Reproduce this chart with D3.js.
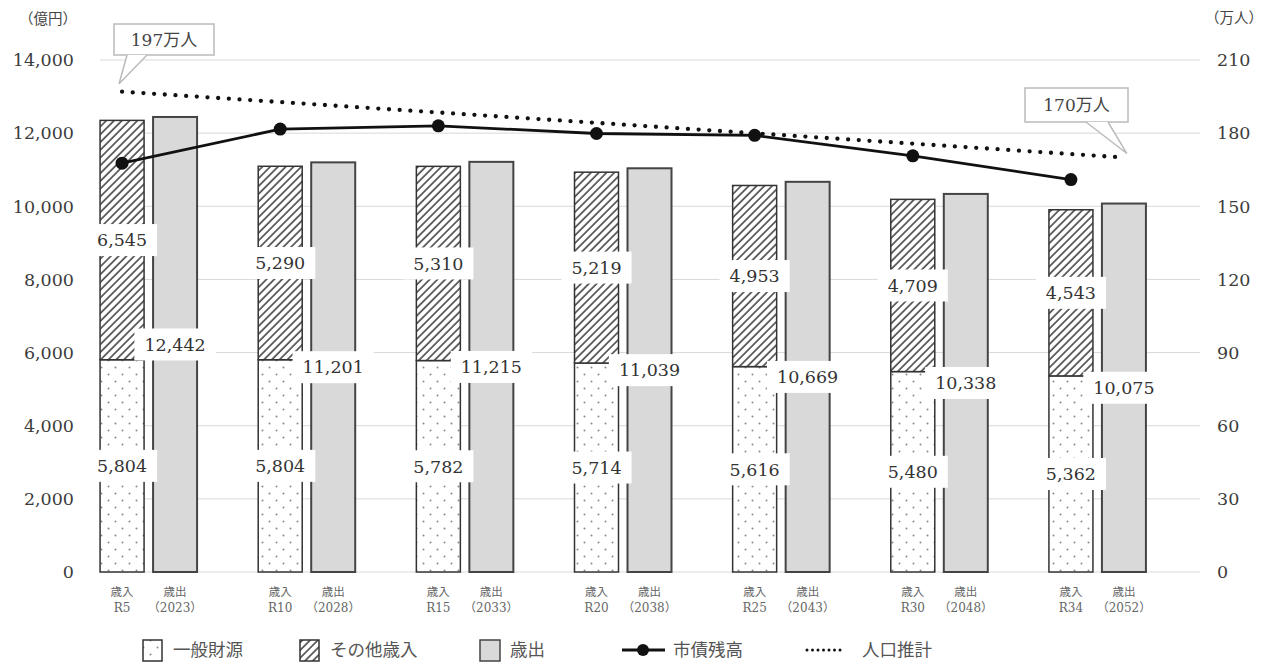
<!DOCTYPE html>
<html><head><meta charset="utf-8">
<script src="https://cdn.jsdelivr.net/npm/d3@7"></script>
<style>body{margin:0;background:#fff}</style></head>
<body><svg id="c" width="1273" height="664"></svg>
<script>
// ---- data ----
const categories = ["R5","R10","R15","R20","R25","R30","R34"];
const years = ["2023","2028","2033","2038","2043","2048","2052"];
const generalRevenue = [5804,5804,5782,5714,5616,5480,5362];
const otherRevenue = [6545,5290,5310,5219,4953,4709,4543];
const expenditure = [12442,11201,11215,11039,10669,10338,10075];
const debtBalance = [11180,12110,12200,11990,11940,11380,10730];
const populationCats = ["R5","R34"];
const populationVals = [197,170];
const populationLabels = ["197万人","170万人"];
const leftTicks = [0,2000,4000,6000,8000,10000,12000,14000];
const rightTicks = [0,30,60,90,120,150,180,210];
const legendLabels = ["一般財源","その他歳入","歳出","市債残高","人口推計"];

// ---- layout ----
const svg = d3.select("#c");
const y = d3.scaleLinear().domain([0,14000]).range([572,60]);
const yR = d3.scaleLinear().domain([0,210]).range([572,60]);
const x = d3.scalePoint().domain(categories).range([69.5,1176.5]).padding(0.5);
const off = 26.5, bw = 44;
const revX = c => x(c) - off, expX = c => x(c) + off;
const fmt = d3.format(",");
const numFont = "'DejaVu Serif','Noto Sans CJK JP',serif";
const jpFont = "'Noto Sans CJK JP',sans-serif";

// patterns
const defs = svg.append("defs");
const pd = defs.append("pattern").attr("id","dots").attr("patternUnits","userSpaceOnUse")
  .attr("width",14).attr("height",14);
pd.append("rect").attr("width",14).attr("height",14).attr("fill","#fff");
pd.append("circle").attr("cx",3.5).attr("cy",3.5).attr("r",1).attr("fill","#8a8a8a");
pd.append("circle").attr("cx",10.5).attr("cy",10.5).attr("r",1).attr("fill","#8a8a8a");
const ph = defs.append("pattern").attr("id","hatch").attr("patternUnits","userSpaceOnUse")
  .attr("width",5.5).attr("height",5.5).attr("patternTransform","rotate(45)");
ph.append("rect").attr("width",5.5).attr("height",5.5).attr("fill","#fff");
ph.append("line").attr("x1",1).attr("y1",0).attr("x2",1).attr("y2",5.5)
  .attr("stroke","#3a3a3a").attr("stroke-width",1.5);

// gridlines
svg.append("g").selectAll("line").data(leftTicks).join("line")
  .attr("x1",100).attr("x2",1200).attr("y1",d=>y(d)).attr("y2",d=>y(d))
  .attr("stroke","#d9d9d9").attr("stroke-width",1);

// axis labels
svg.append("g").selectAll("text").data(leftTicks).join("text")
  .attr("x",74).attr("y",d=>y(d)).attr("dy","0.36em").attr("text-anchor","end")
  .attr("font-family",numFont).attr("font-size",17.5).attr("fill","#3c3c3c")
  .text(d=>fmt(d));
svg.append("g").selectAll("text").data(rightTicks).join("text")
  .attr("x",1217).attr("y",d=>yR(d)).attr("dy","0.36em").attr("text-anchor","start")
  .attr("font-family",numFont).attr("font-size",17.5).attr("fill","#3c3c3c")
  .text(d=>d);
svg.append("text").attr("x",19).attr("y",24).attr("font-family",jpFont).attr("font-size",14.5)
  .attr("fill","#444").text("（億円）");
svg.append("text").attr("x",1205).attr("y",23).attr("font-family",jpFont).attr("font-size",14.5)
  .attr("fill","#444").text("（万人）");

// bars
const bars = svg.append("g");
categories.forEach((c,i)=>{
  bars.append("rect").attr("x",revX(c)-bw/2).attr("width",bw)
    .attr("y",y(generalRevenue[i])).attr("height",y(0)-y(generalRevenue[i]))
    .attr("fill","url(#dots)").attr("stroke","#333").attr("stroke-width",1.5);
  const top = generalRevenue[i]+otherRevenue[i];
  bars.append("rect").attr("x",revX(c)-bw/2).attr("width",bw)
    .attr("y",y(top)).attr("height",y(generalRevenue[i])-y(top))
    .attr("fill","url(#hatch)").attr("stroke","#333").attr("stroke-width",1.5);
  bars.append("rect").attr("x",expX(c)-bw/2).attr("width",bw)
    .attr("y",y(expenditure[i])).attr("height",y(0)-y(expenditure[i]))
    .attr("fill","#d9d9d9").attr("stroke","#444").attr("stroke-width",2);
});

// data labels
const lab = svg.append("g");
function addLabel(cx, cy, str){
  const g = lab.append("g");
  const r = g.append("rect").attr("fill","#fff");
  const t = g.append("text").attr("x",cx).attr("y",cy).attr("dy","0.36em")
    .attr("text-anchor","middle").attr("font-family",numFont).attr("font-size",17.5)
    .attr("fill","#333").text(str);
  const w = t.node().getComputedTextLength() + 20;
  r.attr("x",cx-w/2).attr("y",cy-16).attr("width",w).attr("height",32);
}
categories.forEach((c,i)=>{
  addLabel(revX(c), y(generalRevenue[i]/2), fmt(generalRevenue[i]));
  addLabel(revX(c), y(generalRevenue[i]+otherRevenue[i]/2), fmt(otherRevenue[i]));
  addLabel(expX(c), y(expenditure[i]/2), fmt(expenditure[i]));
});

// x labels
const xl = svg.append("g").attr("fill","#666").attr("text-anchor","middle");
categories.forEach((c,i)=>{
  xl.append("text").attr("x",revX(c)).attr("y",596).attr("font-family",jpFont).attr("font-size",11.5).text("歳入");
  xl.append("text").attr("x",revX(c)).attr("y",612).attr("font-family",numFont).attr("font-size",12).text(c);
  xl.append("text").attr("x",expX(c)).attr("y",596).attr("font-family",jpFont).attr("font-size",11.5).text("歳出");
  xl.append("text").attr("x",expX(c)).attr("y",612).attr("font-family",numFont).attr("font-size",12).text("（"+years[i]+"）");
});

// debt line
const debtLine = d3.line().x(d=>revX(d.c)).y(d=>y(d.v));
const debtData = categories.map((c,i)=>({c, v:debtBalance[i]}));
svg.append("path").datum(debtData).attr("d",debtLine).attr("fill","none")
  .attr("stroke","#111").attr("stroke-width",2.8);
svg.append("g").selectAll("circle").data(debtData).join("circle")
  .attr("cx",d=>revX(d.c)).attr("cy",d=>y(d.v)).attr("r",6.5).attr("fill","#111");

// population line
const popPts = populationCats.map((c,i)=>[i===0?revX(c):expX(c), yR(populationVals[i])]);
svg.append("path").attr("d",d3.line()(popPts)).attr("fill","none")
  .attr("stroke","#111").attr("stroke-width",4.3).attr("stroke-linecap","round")
  .attr("stroke-dasharray","0,10.7");

// callouts
function callout(bx, by, bwid, bh, ta, tb, pt, str){
  const g = svg.append("g");
  g.append("rect").attr("x",bx).attr("y",by).attr("width",bwid).attr("height",bh)
    .attr("fill","#fff").attr("stroke","#bbb").attr("stroke-width",1.5);
  g.append("path").attr("d",`M${ta},${by+bh} L${pt[0]},${pt[1]} L${tb},${by+bh} Z`)
    .attr("fill","#fff").attr("stroke","none");
  g.append("path").attr("d",`M${ta},${by+bh} L${pt[0]},${pt[1]} L${tb},${by+bh}`)
    .attr("fill","none").attr("stroke","#bbb").attr("stroke-width",1.5);
  g.append("text").attr("x",bx+bwid/2).attr("y",by+bh/2).attr("dy","0.36em")
    .attr("text-anchor","middle").attr("font-family",numFont).attr("font-size",17)
    .attr("fill","#444").text(str);
}
callout(114, 24, 100, 31, 127, 147, [popPts[0][0]-3, popPts[0][1]-8], populationLabels[0]);
callout(1025, 88, 103, 34, 1086, 1108, [popPts[1][0]+3, popPts[1][1]-4], populationLabels[1]);

// legend
const lg = svg.append("g");
const lgFont = 17.5, ly = 650;
lg.append("rect").attr("x",143).attr("y",640).attr("width",19).attr("height",21).attr("fill","url(#dots)").attr("stroke","#333").attr("stroke-width",1.5);
lg.append("text").attr("x",173).attr("y",ly).attr("dy","0.36em").attr("font-family",jpFont).attr("font-size",lgFont).attr("fill","#555").text(legendLabels[0]);
lg.append("rect").attr("x",300).attr("y",640).attr("width",19).attr("height",21).attr("fill","url(#hatch)").attr("stroke","#333").attr("stroke-width",1.5);
lg.append("text").attr("x",330).attr("y",ly).attr("dy","0.36em").attr("font-family",jpFont).attr("font-size",lgFont).attr("fill","#555").text(legendLabels[1]);
lg.append("rect").attr("x",480).attr("y",640).attr("width",20).attr("height",21).attr("fill","#d9d9d9").attr("stroke","#444").attr("stroke-width",1.5);
lg.append("text").attr("x",510).attr("y",ly).attr("dy","0.36em").attr("font-family",jpFont).attr("font-size",lgFont).attr("fill","#555").text(legendLabels[2]);
lg.append("line").attr("x1",622).attr("x2",665).attr("y1",ly).attr("y2",ly).attr("stroke","#111").attr("stroke-width",2.8);
lg.append("circle").attr("cx",643).attr("cy",ly).attr("r",6).attr("fill","#111");
lg.append("text").attr("x",673).attr("y",ly).attr("dy","0.36em").attr("font-family",jpFont).attr("font-size",lgFont).attr("fill","#555").text(legendLabels[3]);
lg.append("line").attr("x1",807).attr("x2",845).attr("y1",ly).attr("y2",ly).attr("stroke","#111").attr("stroke-width",3).attr("stroke-linecap","round").attr("stroke-dasharray","0,5.5");
lg.append("text").attr("x",862).attr("y",ly).attr("dy","0.36em").attr("font-family",jpFont).attr("font-size",lgFont).attr("fill","#555").text(legendLabels[4]);
</script>
</body></html>
